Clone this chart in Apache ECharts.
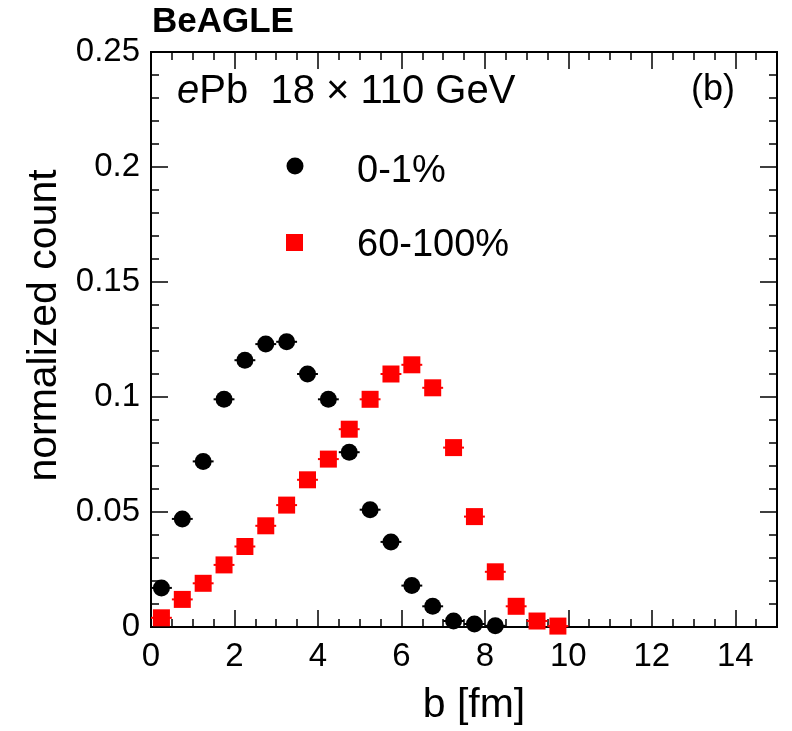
<!DOCTYPE html>
<html>
<head>
<meta charset="utf-8">
<script src="https://cdn.jsdelivr.net/npm/echarts@6/dist/echarts.min.js"></script>
<style>
html, body { margin: 0; padding: 0; background: #fff; }
#chart { width: 792px; height: 731px; }
</style>
</head>
<body>
<div id="chart"></div>
<script>
// bin centres in b [fm], bin width 0.5
const bCentral = [0.25, 0.75, 1.25, 1.75, 2.25, 2.75, 3.25, 3.75, 4.25, 4.75, 5.25, 5.75, 6.25, 6.75, 7.25, 7.75, 8.25];
const countCentral = [0.017, 0.047, 0.072, 0.099, 0.116, 0.123, 0.124, 0.110, 0.099, 0.076, 0.051, 0.037, 0.018, 0.009, 0.0026, 0.0013, 0.0005];
const bPeripheral = [0.25, 0.75, 1.25, 1.75, 2.25, 2.75, 3.25, 3.75, 4.25, 4.75, 5.25, 5.75, 6.25, 6.75, 7.25, 7.75, 8.25, 8.75, 9.25, 9.75];
const countPeripheral = [0.004, 0.012, 0.019, 0.027, 0.035, 0.044, 0.053, 0.064, 0.073, 0.086, 0.099, 0.110, 0.114, 0.104, 0.078, 0.048, 0.024, 0.009, 0.0026, 0.0004];
const binHalf = 0.25;
const legendNames = ['0-1%', '60-100%'];

const font = 'Liberation Sans';

const pts = (xs, ys) => xs.map((x, i) => [x, ys[i]]);

// horizontal bin-width bars
function errBar(color) {
    return function (params, api) {
        const x = api.value(0), y = api.value(1);
        const p1 = api.coord([x - binHalf, y]);
        const p2 = api.coord([x + binHalf, y]);
        return {
            type: 'line',
            shape: { x1: p1[0], y1: p1[1], x2: p2[0], y2: p2[1] },
            style: { stroke: color, lineWidth: 2 }
        };
    };
}

function xAx(pos, interval, len, labels) {
    return {
        type: 'value', position: pos, min: 0, max: 15, interval: interval,
        axisLine: { show: true, onZero: false, lineStyle: { color: '#000', width: 2 } },
        axisTick: { show: true, inside: true, length: len, lineStyle: { color: '#000', width: 1.5 } },
        axisLabel: labels ? {
            show: true, fontFamily: font, fontSize: 33, color: '#000', margin: 13,
            formatter: v => (v > 14 ? '' : String(v))
        } : { show: false },
        splitLine: { show: false }
    };
}
function yAx(pos, interval, len, labels) {
    return {
        type: 'value', position: pos, min: 0, max: 0.25, interval: interval,
        axisLine: { show: true, onZero: false, lineStyle: { color: '#000', width: 2 } },
        axisTick: { show: true, inside: true, length: len, lineStyle: { color: '#000', width: 1.5 } },
        axisLabel: labels ? {
            show: true, fontFamily: font, fontSize: 33, color: '#000', margin: 11,
            formatter: v => String(+v.toFixed(2))
        } : { show: false },
        splitLine: { show: false }
    };
}

const xMain = xAx('bottom', 2, 17, true);
xMain.name = 'b [fm]';
xMain.nameLocation = 'middle';
xMain.nameGap = 58;
xMain.nameTextStyle = { fontFamily: font, fontSize: 41, color: '#000', padding: [0, 0, 0, 20] };

const yMain = yAx('left', 0.05, 17, true);
yMain.name = 'normalized count';
yMain.nameLocation = 'middle';
yMain.nameGap = 81;
yMain.nameTextStyle = { fontFamily: font, fontSize: 41, color: '#000', padding: [0, 0, 0, 28] };

const chart = echarts.init(document.getElementById('chart'));
chart.setOption({
    animation: false,
    backgroundColor: '#fff',
    grid: { left: 151, right: 15, top: 52, bottom: 104 },
    xAxis: [xMain, xAx('bottom', 0.5, 8, false), xAx('top', 2, 17, false), xAx('top', 0.5, 8, false)],
    yAxis: [yMain, yAx('left', 0.01, 8, false), yAx('right', 0.05, 17, false), yAx('right', 0.01, 8, false)],
    series: [
        { type: 'custom', renderItem: errBar('#000'), data: pts(bCentral, countCentral), z: 1 },
        { type: 'custom', renderItem: errBar('#ff0000'), data: pts(bPeripheral, countPeripheral), z: 1 },
        { name: legendNames[0], type: 'scatter', symbol: 'circle', symbolSize: 17,
          itemStyle: { color: '#000', opacity: 1 }, data: pts(bCentral, countCentral), z: 3 },
        { name: legendNames[1], type: 'scatter', symbol: 'rect', symbolSize: 17,
          itemStyle: { color: '#ff0000', opacity: 1 }, data: pts(bPeripheral, countPeripheral), z: 3 }
    ],
    graphic: [
        { type: 'text', left: 152, top: 5, style: { text: 'BeAGLE', font: 'bold 35px "Liberation Sans"', fill: '#000' } },
        { type: 'text', left: 177, top: 72, style: {
            rich: {
                it: { fontFamily: font, fontStyle: 'italic', fontSize: 40, fill: '#000' },
                n: { fontFamily: font, fontSize: 40, fill: '#000' }
            },
            text: '{it|e}{n|Pb  18 × 110 GeV}'
        } },
        { type: 'text', left: 691, top: 72, style: { text: '(b)', font: '36px "Liberation Sans"', fill: '#000' } },
        { type: 'circle', shape: { cx: 295, cy: 166, r: 8.5 }, style: { fill: '#000' } },
        { type: 'rect', shape: { x: 286, y: 234, width: 17, height: 17 }, style: { fill: '#ff0000' } },
        { type: 'text', left: 357, top: 153, style: { text: legendNames[0], font: '38px "Liberation Sans"', fill: '#000' } },
        { type: 'text', left: 357, top: 227, style: { text: legendNames[1], font: '38px "Liberation Sans"', fill: '#000' } }
    ]
});
</script>
</body>
</html>
